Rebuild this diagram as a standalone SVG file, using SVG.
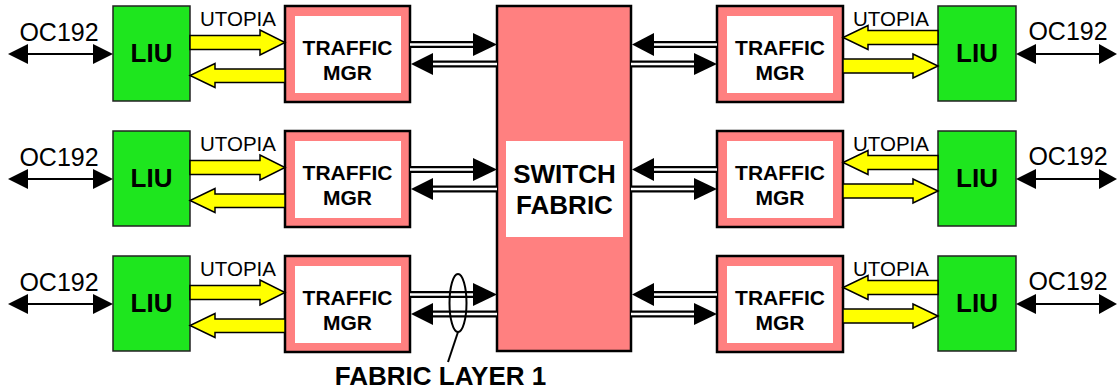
<svg xmlns="http://www.w3.org/2000/svg" width="1118" height="391" viewBox="0 0 1118 391">
<defs>
<style>
.liu{fill:#1ee61e;stroke:#222;stroke-width:1.5}
.tmo{fill:#ff8080;stroke:#000;stroke-width:2.5}
.tmi{fill:#fff}
.bt{font-family:"Liberation Sans",Arial,sans-serif;font-weight:bold;fill:#000;text-anchor:middle}
.rt{font-family:"Liberation Sans",Arial,sans-serif;fill:#000;text-anchor:middle}
.y{fill:#ffff00;stroke:#000;stroke-width:1.5;stroke-linejoin:miter}
.dl{stroke:#000;stroke-width:7;fill:none}
.dw{stroke:#fff;stroke-width:2.5;fill:none}
.ah{fill:#000}
.ln{stroke:#000;stroke-width:2;fill:none}
</style>
</defs>
<rect width="1118" height="391" fill="#fff"/>

<g id="switch-fabric">
<rect x="497" y="6" width="134" height="345" class="tmo"/>
<rect x="506" y="141" width="117" height="96" class="tmi"/>
<text x="564.5" y="183" class="bt" font-size="26">SWITCH</text>
<text x="564.5" y="214" class="bt" font-size="26">FABRIC</text>
</g>

<g id="nodes">
<g id="row1" transform="translate(0,0)">
<g id="liu-l1"><rect x="113" y="6" width="77" height="95" class="liu"/><text x="151.5" y="62" class="bt" font-size="26">LIU</text></g>
<g id="tm-l1"><rect x="285" y="6" width="125" height="96" class="tmo"/><rect x="295" y="16" width="106" height="77" class="tmi"/><text x="347.5" y="55" class="bt" font-size="21">TRAFFIC</text><text x="347.5" y="80" class="bt" font-size="21">MGR</text></g>
<g id="tm-r1"><rect x="717" y="6" width="126" height="96" class="tmo"/><rect x="727" y="16" width="106" height="77" class="tmi"/><text x="780" y="55" class="bt" font-size="21">TRAFFIC</text><text x="780" y="80" class="bt" font-size="21">MGR</text></g>
<g id="liu-r1"><rect x="938" y="6" width="78" height="95" class="liu"/><text x="977" y="62" class="bt" font-size="26">LIU</text></g>
</g>
<g id="row2" transform="translate(0,125)">
<g id="liu-l2"><rect x="113" y="6" width="77" height="95" class="liu"/><text x="151.5" y="62" class="bt" font-size="26">LIU</text></g>
<g id="tm-l2"><rect x="285" y="6" width="125" height="96" class="tmo"/><rect x="295" y="16" width="106" height="77" class="tmi"/><text x="347.5" y="55" class="bt" font-size="21">TRAFFIC</text><text x="347.5" y="80" class="bt" font-size="21">MGR</text></g>
<g id="tm-r2"><rect x="717" y="6" width="126" height="96" class="tmo"/><rect x="727" y="16" width="106" height="77" class="tmi"/><text x="780" y="55" class="bt" font-size="21">TRAFFIC</text><text x="780" y="80" class="bt" font-size="21">MGR</text></g>
<g id="liu-r2"><rect x="938" y="6" width="78" height="95" class="liu"/><text x="977" y="62" class="bt" font-size="26">LIU</text></g>
</g>
<g id="row3" transform="translate(0,250)">
<g id="liu-l3"><rect x="113" y="6" width="77" height="95" class="liu"/><text x="151.5" y="62" class="bt" font-size="26">LIU</text></g>
<g id="tm-l3"><rect x="285" y="6" width="125" height="96" class="tmo"/><rect x="295" y="16" width="106" height="77" class="tmi"/><text x="347.5" y="55" class="bt" font-size="21">TRAFFIC</text><text x="347.5" y="80" class="bt" font-size="21">MGR</text></g>
<g id="tm-r3"><rect x="717" y="6" width="126" height="96" class="tmo"/><rect x="727" y="16" width="106" height="77" class="tmi"/><text x="780" y="55" class="bt" font-size="21">TRAFFIC</text><text x="780" y="80" class="bt" font-size="21">MGR</text></g>
<g id="liu-r3"><rect x="938" y="6" width="78" height="95" class="liu"/><text x="977" y="62" class="bt" font-size="26">LIU</text></g>
</g>
</g>

<defs>
<g id="rowconn">
<line x1="26" y1="54" x2="95" y2="54" class="ln"/>
<polygon points="8,54 28,44 28,64" class="ah"/>
<polygon points="113,54 93,44 93,64" class="ah"/>
<text x="59" y="41" class="rt" font-size="25">OC192</text>
<line x1="1034" y1="54" x2="1100" y2="54" class="ln"/>
<polygon points="1016,54 1036,44 1036,64" class="ah"/>
<polygon points="1117,54 1099,44 1099,64" class="ah"/>
<text x="1068" y="40" class="rt" font-size="25">OC192</text>
<text x="238" y="26" class="rt" font-size="20.5">UTOPIA</text>
<text x="891" y="26" class="rt" font-size="20.5">UTOPIA</text>
<polygon points="190,35.5 260,35.5 260,30 285,42.5 260,55 260,49.5 190,49.5" class="y"/>
<polygon points="285,69 215,69 215,63.5 190,75.5 215,87.5 215,82.5 285,82.5" class="y"/>
<polygon points="938,30.5 868,30.5 868,25.5 843,37.5 868,49.5 868,44.5 938,44.5" class="y"/>
<polygon points="843,59 913,59 913,54 938,66 913,78 913,73 843,73" class="y"/>
<line x1="410" y1="44.5" x2="475" y2="44.5" class="dl"/><line x1="410" y1="44.5" x2="475" y2="44.5" class="dw"/>
<polygon points="497,44.5 473,33 473,56" class="ah"/>
<line x1="430" y1="64" x2="497" y2="64" class="dl"/><line x1="430" y1="64" x2="497" y2="64" class="dw"/>
<polygon points="411,64 433,53 433,75" class="ah"/>
<line x1="651" y1="44.5" x2="717" y2="44.5" class="dl"/><line x1="651" y1="44.5" x2="717" y2="44.5" class="dw"/>
<polygon points="632,44.5 654,33 654,56" class="ah"/>
<line x1="631" y1="64" x2="696" y2="64" class="dl"/><line x1="631" y1="64" x2="696" y2="64" class="dw"/>
<polygon points="717,64 694,53 694,75" class="ah"/>
</g>
</defs>

<g id="connectors">
<use href="#rowconn"/>
<use href="#rowconn" transform="translate(0,125)"/>
<use href="#rowconn" transform="translate(0,250)"/>
</g>

<g id="fabric-layer-label">
<ellipse cx="458" cy="303" rx="8.5" ry="29" fill="none" stroke="#000" stroke-width="2"/>
<line x1="458" y1="332" x2="448" y2="362" class="ln"/>
<text x="440.5" y="385" class="bt" font-size="26">FABRIC LAYER 1</text>
</g>
</svg>
